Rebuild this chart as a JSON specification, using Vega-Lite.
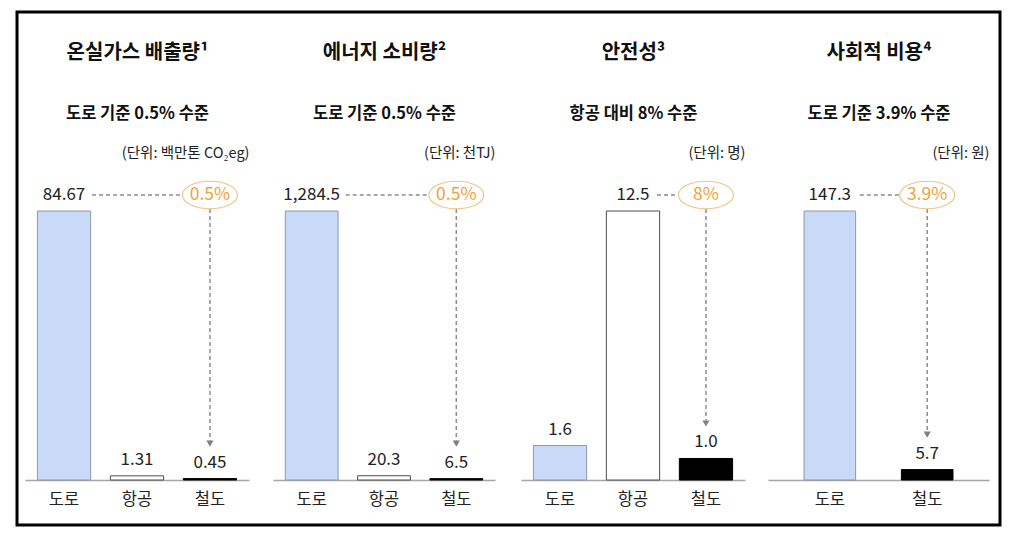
{
  "$schema": "https://vega.github.io/schema/vega-lite/v6.json",
  "autosize": {"type": "none"},
  "width": 983,
  "height": 513,
  "padding": {"left": 17, "top": 12, "right": 17, "bottom": 8},
  "background": "#ffffff",
  "config": {
    "font": "Noto Sans CJK KR",
    "view": {"stroke": "#000000", "strokeWidth": 3, "fill": "#ffffff"},
    "axis": {"grid": false}
  },
  "datasets": {
    "bars": [
      {"panel": "ghg", "mode": "도로", "value": 84.67, "label": "84.67"},
      {"panel": "ghg", "mode": "항공", "value": 1.31, "label": "1.31"},
      {"panel": "ghg", "mode": "철도", "value": 0.45, "label": "0.45"},
      {"panel": "energy", "mode": "도로", "value": 1284.5, "label": "1,284.5"},
      {"panel": "energy", "mode": "항공", "value": 20.3, "label": "20.3"},
      {"panel": "energy", "mode": "철도", "value": 6.5, "label": "6.5"},
      {"panel": "safety", "mode": "도로", "value": 1.6, "label": "1.6"},
      {"panel": "safety", "mode": "항공", "value": 12.5, "label": "12.5"},
      {"panel": "safety", "mode": "철도", "value": 1.0, "label": "1.0"},
      {"panel": "cost", "mode": "도로", "value": 147.3, "label": "147.3"},
      {"panel": "cost", "mode": "철도", "value": 5.7, "label": "5.7"}
    ],
    "notes": [
      {"panel": "ghg", "from": "도로", "to": "철도", "ref": 84.67, "target": 0.45, "pct": "0.5%"},
      {"panel": "energy", "from": "도로", "to": "철도", "ref": 1284.5, "target": 6.5, "pct": "0.5%"},
      {"panel": "safety", "from": "항공", "to": "철도", "ref": 12.5, "target": 1.0, "pct": "8%"},
      {"panel": "cost", "from": "도로", "to": "철도", "ref": 147.3, "target": 5.7, "pct": "3.9%"}
    ]
  },
  "layer": [
    {
      "layer": [
        {
          "data": {"name": "bars"},
          "transform": [{"filter": "datum.panel === 'ghg'"}],
          "mark": {"type": "bar", "strokeWidth": 1},
          "encoding": {
            "x": {"field": "mode", "type": "nominal", "scale": {"domain": ["도로", "항공", "철도"], "range": [8, 232], "paddingInner": 0.27, "paddingOuter": 0.17}, "axis": {"orient": "bottom", "offset": -45, "title": null, "ticks": false, "labelAngle": 0, "labelFontSize": 16.5, "labelColor": "#222222", "labelPadding": 11, "domainColor": "#a6a6a6", "domainWidth": 1.5}},
            "y": {"field": "value", "type": "quantitative", "scale": {"domain": [0, 84.67], "range": [468, 199], "nice": false, "zero": true}, "axis": null},
            "fill": {"field": "mode", "type": "nominal", "scale": {"domain": ["도로", "항공", "철도"], "range": ["#c8daf7", "#ffffff", "#000000"]}, "legend": null},
            "stroke": {"field": "mode", "type": "nominal", "scale": {"domain": ["도로", "항공", "철도"], "range": ["#8e99ab", "#4d4d4d", "#000000"]}, "legend": null}
          }
        },
        {
          "data": {"name": "bars"},
          "transform": [{"filter": "datum.panel === 'ghg'"}],
          "mark": {"type": "text", "fontSize": 17, "color": "#222222", "baseline": "middle", "dy": -16},
          "encoding": {
            "x": {"field": "mode", "type": "nominal", "axis": {"orient": "top", "domain": false, "ticks": false, "labels": false, "title": "온실가스 배출량¹", "titleFontSize": 20, "titleFontWeight": "bold", "titleColor": "#111111", "titleY": 40, "titleBaseline": "middle", "titleAnchor": "middle"}},
            "y": {"field": "value", "type": "quantitative", "axis": null},
            "text": {"field": "label"}
          }
        },
        {
          "data": {"name": "notes"},
          "transform": [{"filter": "datum.panel === 'ghg'"}],
          "mark": {"type": "rule", "strokeDash": [4, 3], "color": "#8c8c8c", "strokeWidth": 1.5, "yOffset": -16, "xOffset": 28, "x2Offset": -28},
          "encoding": {
            "x": {"field": "from", "type": "nominal", "axis": {"orient": "top", "domain": false, "ticks": false, "labels": false, "title": "도로 기준 0.5% 수준", "titleFontSize": 16.5, "titleFontWeight": "bold", "titleColor": "#111111", "titleY": 101, "titleBaseline": "middle", "titleAnchor": "middle"}},
            "x2": {"field": "to"},
            "y": {"field": "ref", "type": "quantitative", "axis": null}
          }
        },
        {
          "data": {"name": "notes"},
          "transform": [{"filter": "datum.panel === 'ghg'"}],
          "mark": {"type": "rule", "strokeDash": [4, 3], "color": "#8c8c8c", "strokeWidth": 1.5, "yOffset": -2, "y2Offset": -38},
          "encoding": {
            "x": {"field": "to", "type": "nominal", "axis": null},
            "y": {"field": "ref", "type": "quantitative", "axis": null},
            "y2": {"field": "target"}
          }
        },
        {
          "data": {"name": "notes"},
          "transform": [{"filter": "datum.panel === 'ghg'"}],
          "mark": {"type": "point", "shape": "triangle-down", "size": 50, "filled": true, "color": "#808080", "opacity": 1, "yOffset": -35},
          "encoding": {
            "x": {"field": "to", "type": "nominal", "axis": null},
            "y": {"field": "target", "type": "quantitative", "axis": null}
          }
        },
        {
          "data": {"name": "notes"},
          "transform": [{"filter": "datum.panel === 'ghg'"}],
          "mark": {"type": "point", "shape": "M -1 0 A 1 0.5 0 1 1 1 0 A 1 0.5 0 1 1 -1 0 Z", "size": 3025, "filled": true, "fill": "#ffffff", "stroke": "#f2c387", "strokeWidth": 1.2, "opacity": 1, "yOffset": -16},
          "encoding": {
            "x": {"field": "to", "type": "nominal", "axis": {"orient": "top", "domain": false, "ticks": false, "labels": false, "title": "(단위: 백만톤 CO₂eg)", "titleFontSize": 14.5, "titleFontWeight": "normal", "titleColor": "#222222", "titleY": 141, "titleBaseline": "middle", "titleAnchor": "end", "titleAlign": "right"}},
            "y": {"field": "ref", "type": "quantitative", "axis": null}
          }
        },
        {
          "data": {"name": "notes"},
          "transform": [{"filter": "datum.panel === 'ghg'"}],
          "mark": {"type": "text", "fontSize": 17.5, "color": "#f0a23c", "baseline": "middle", "dy": -16},
          "encoding": {
            "x": {"field": "to", "type": "nominal", "axis": null},
            "y": {"field": "ref", "type": "quantitative", "axis": null},
            "text": {"field": "pct"}
          }
        }
      ],
      "resolve": {"axis": {"x": "independent"}}
    },
    {
      "layer": [
        {
          "data": {"name": "bars"},
          "transform": [{"filter": "datum.panel === 'energy'"}],
          "mark": {"type": "bar", "strokeWidth": 1},
          "encoding": {
            "x": {"field": "mode", "type": "nominal", "scale": {"domain": ["도로", "항공", "철도"], "range": [256, 478], "paddingInner": 0.27, "paddingOuter": 0.17}, "axis": {"orient": "bottom", "offset": -45, "title": null, "ticks": false, "labelAngle": 0, "labelFontSize": 16.5, "labelColor": "#222222", "labelPadding": 11, "domainColor": "#a6a6a6", "domainWidth": 1.5}},
            "y": {"field": "value", "type": "quantitative", "scale": {"domain": [0, 1284.5], "range": [468, 199], "nice": false, "zero": true}, "axis": null},
            "fill": {"field": "mode", "type": "nominal", "scale": {"domain": ["도로", "항공", "철도"], "range": ["#c8daf7", "#ffffff", "#000000"]}, "legend": null},
            "stroke": {"field": "mode", "type": "nominal", "scale": {"domain": ["도로", "항공", "철도"], "range": ["#8e99ab", "#4d4d4d", "#000000"]}, "legend": null}
          }
        },
        {
          "data": {"name": "bars"},
          "transform": [{"filter": "datum.panel === 'energy'"}],
          "mark": {"type": "text", "fontSize": 17, "color": "#222222", "baseline": "middle", "dy": -16},
          "encoding": {
            "x": {"field": "mode", "type": "nominal", "axis": {"orient": "top", "domain": false, "ticks": false, "labels": false, "title": "에너지 소비량²", "titleFontSize": 20, "titleFontWeight": "bold", "titleColor": "#111111", "titleY": 40, "titleBaseline": "middle", "titleAnchor": "middle"}},
            "y": {"field": "value", "type": "quantitative", "axis": null},
            "text": {"field": "label"}
          }
        },
        {
          "data": {"name": "notes"},
          "transform": [{"filter": "datum.panel === 'energy'"}],
          "mark": {"type": "rule", "strokeDash": [4, 3], "color": "#8c8c8c", "strokeWidth": 1.5, "yOffset": -16, "xOffset": 34, "x2Offset": -28},
          "encoding": {
            "x": {"field": "from", "type": "nominal", "axis": {"orient": "top", "domain": false, "ticks": false, "labels": false, "title": "도로 기준 0.5% 수준", "titleFontSize": 16.5, "titleFontWeight": "bold", "titleColor": "#111111", "titleY": 101, "titleBaseline": "middle", "titleAnchor": "middle"}},
            "x2": {"field": "to"},
            "y": {"field": "ref", "type": "quantitative", "axis": null}
          }
        },
        {
          "data": {"name": "notes"},
          "transform": [{"filter": "datum.panel === 'energy'"}],
          "mark": {"type": "rule", "strokeDash": [4, 3], "color": "#8c8c8c", "strokeWidth": 1.5, "yOffset": -2, "y2Offset": -38},
          "encoding": {
            "x": {"field": "to", "type": "nominal", "axis": null},
            "y": {"field": "ref", "type": "quantitative", "axis": null},
            "y2": {"field": "target"}
          }
        },
        {
          "data": {"name": "notes"},
          "transform": [{"filter": "datum.panel === 'energy'"}],
          "mark": {"type": "point", "shape": "triangle-down", "size": 50, "filled": true, "color": "#808080", "opacity": 1, "yOffset": -35},
          "encoding": {
            "x": {"field": "to", "type": "nominal", "axis": null},
            "y": {"field": "target", "type": "quantitative", "axis": null}
          }
        },
        {
          "data": {"name": "notes"},
          "transform": [{"filter": "datum.panel === 'energy'"}],
          "mark": {"type": "point", "shape": "M -1 0 A 1 0.5 0 1 1 1 0 A 1 0.5 0 1 1 -1 0 Z", "size": 3025, "filled": true, "fill": "#ffffff", "stroke": "#f2c387", "strokeWidth": 1.2, "opacity": 1, "yOffset": -16},
          "encoding": {
            "x": {"field": "to", "type": "nominal", "axis": {"orient": "top", "domain": false, "ticks": false, "labels": false, "title": "(단위: 천TJ)", "titleFontSize": 14.5, "titleFontWeight": "normal", "titleColor": "#222222", "titleY": 141, "titleBaseline": "middle", "titleAnchor": "end", "titleAlign": "right"}},
            "y": {"field": "ref", "type": "quantitative", "axis": null}
          }
        },
        {
          "data": {"name": "notes"},
          "transform": [{"filter": "datum.panel === 'energy'"}],
          "mark": {"type": "text", "fontSize": 17.5, "color": "#f0a23c", "baseline": "middle", "dy": -16},
          "encoding": {
            "x": {"field": "to", "type": "nominal", "axis": null},
            "y": {"field": "ref", "type": "quantitative", "axis": null},
            "text": {"field": "pct"}
          }
        }
      ],
      "resolve": {"axis": {"x": "independent"}}
    },
    {
      "layer": [
        {
          "data": {"name": "bars"},
          "transform": [{"filter": "datum.panel === 'safety'"}],
          "mark": {"type": "bar", "strokeWidth": 1},
          "encoding": {
            "x": {"field": "mode", "type": "nominal", "scale": {"domain": ["도로", "항공", "철도"], "range": [504, 728], "paddingInner": 0.27, "paddingOuter": 0.17}, "axis": {"orient": "bottom", "offset": -45, "title": null, "ticks": false, "labelAngle": 0, "labelFontSize": 16.5, "labelColor": "#222222", "labelPadding": 11, "domainColor": "#a6a6a6", "domainWidth": 1.5}},
            "y": {"field": "value", "type": "quantitative", "scale": {"domain": [0, 12.5], "range": [468, 199], "nice": false, "zero": true}, "axis": null},
            "fill": {"field": "mode", "type": "nominal", "scale": {"domain": ["도로", "항공", "철도"], "range": ["#c8daf7", "#ffffff", "#000000"]}, "legend": null},
            "stroke": {"field": "mode", "type": "nominal", "scale": {"domain": ["도로", "항공", "철도"], "range": ["#8e99ab", "#4d4d4d", "#000000"]}, "legend": null}
          }
        },
        {
          "data": {"name": "bars"},
          "transform": [{"filter": "datum.panel === 'safety'"}],
          "mark": {"type": "text", "fontSize": 17, "color": "#222222", "baseline": "middle", "dy": -16},
          "encoding": {
            "x": {"field": "mode", "type": "nominal", "axis": {"orient": "top", "domain": false, "ticks": false, "labels": false, "title": "안전성³", "titleFontSize": 20, "titleFontWeight": "bold", "titleColor": "#111111", "titleY": 40, "titleBaseline": "middle", "titleAnchor": "middle"}},
            "y": {"field": "value", "type": "quantitative", "axis": null},
            "text": {"field": "label"}
          }
        },
        {
          "data": {"name": "notes"},
          "transform": [{"filter": "datum.panel === 'safety'"}],
          "mark": {"type": "rule", "strokeDash": [4, 3], "color": "#8c8c8c", "strokeWidth": 1.5, "yOffset": -16, "xOffset": 24, "x2Offset": -28},
          "encoding": {
            "x": {"field": "from", "type": "nominal", "axis": {"orient": "top", "domain": false, "ticks": false, "labels": false, "title": "항공 대비 8% 수준", "titleFontSize": 16.5, "titleFontWeight": "bold", "titleColor": "#111111", "titleY": 101, "titleBaseline": "middle", "titleAnchor": "middle"}},
            "x2": {"field": "to"},
            "y": {"field": "ref", "type": "quantitative", "axis": null}
          }
        },
        {
          "data": {"name": "notes"},
          "transform": [{"filter": "datum.panel === 'safety'"}],
          "mark": {"type": "rule", "strokeDash": [4, 3], "color": "#8c8c8c", "strokeWidth": 1.5, "yOffset": -2, "y2Offset": -38},
          "encoding": {
            "x": {"field": "to", "type": "nominal", "axis": null},
            "y": {"field": "ref", "type": "quantitative", "axis": null},
            "y2": {"field": "target"}
          }
        },
        {
          "data": {"name": "notes"},
          "transform": [{"filter": "datum.panel === 'safety'"}],
          "mark": {"type": "point", "shape": "triangle-down", "size": 50, "filled": true, "color": "#808080", "opacity": 1, "yOffset": -35},
          "encoding": {
            "x": {"field": "to", "type": "nominal", "axis": null},
            "y": {"field": "target", "type": "quantitative", "axis": null}
          }
        },
        {
          "data": {"name": "notes"},
          "transform": [{"filter": "datum.panel === 'safety'"}],
          "mark": {"type": "point", "shape": "M -1 0 A 1 0.5 0 1 1 1 0 A 1 0.5 0 1 1 -1 0 Z", "size": 3025, "filled": true, "fill": "#ffffff", "stroke": "#f2c387", "strokeWidth": 1.2, "opacity": 1, "yOffset": -16},
          "encoding": {
            "x": {"field": "to", "type": "nominal", "axis": {"orient": "top", "domain": false, "ticks": false, "labels": false, "title": "(단위: 명)", "titleFontSize": 14.5, "titleFontWeight": "normal", "titleColor": "#222222", "titleY": 141, "titleBaseline": "middle", "titleAnchor": "end", "titleAlign": "right"}},
            "y": {"field": "ref", "type": "quantitative", "axis": null}
          }
        },
        {
          "data": {"name": "notes"},
          "transform": [{"filter": "datum.panel === 'safety'"}],
          "mark": {"type": "text", "fontSize": 17.5, "color": "#f0a23c", "baseline": "middle", "dy": -16},
          "encoding": {
            "x": {"field": "to", "type": "nominal", "axis": null},
            "y": {"field": "ref", "type": "quantitative", "axis": null},
            "text": {"field": "pct"}
          }
        }
      ],
      "resolve": {"axis": {"x": "independent"}}
    },
    {
      "layer": [
        {
          "data": {"name": "bars"},
          "transform": [{"filter": "datum.panel === 'cost'"}],
          "mark": {"type": "bar", "strokeWidth": 1},
          "encoding": {
            "x": {"field": "mode", "type": "nominal", "scale": {"domain": ["도로", "철도"], "range": [751, 972], "paddingInner": 0.47, "paddingOuter": 0.37}, "axis": {"orient": "bottom", "offset": -45, "title": null, "ticks": false, "labelAngle": 0, "labelFontSize": 16.5, "labelColor": "#222222", "labelPadding": 11, "domainColor": "#a6a6a6", "domainWidth": 1.5}},
            "y": {"field": "value", "type": "quantitative", "scale": {"domain": [0, 147.3], "range": [468, 199], "nice": false, "zero": true}, "axis": null},
            "fill": {"field": "mode", "type": "nominal", "scale": {"domain": ["도로", "항공", "철도"], "range": ["#c8daf7", "#ffffff", "#000000"]}, "legend": null},
            "stroke": {"field": "mode", "type": "nominal", "scale": {"domain": ["도로", "항공", "철도"], "range": ["#8e99ab", "#4d4d4d", "#000000"]}, "legend": null}
          }
        },
        {
          "data": {"name": "bars"},
          "transform": [{"filter": "datum.panel === 'cost'"}],
          "mark": {"type": "text", "fontSize": 17, "color": "#222222", "baseline": "middle", "dy": -16},
          "encoding": {
            "x": {"field": "mode", "type": "nominal", "axis": {"orient": "top", "domain": false, "ticks": false, "labels": false, "title": "사회적 비용⁴", "titleFontSize": 20, "titleFontWeight": "bold", "titleColor": "#111111", "titleY": 40, "titleBaseline": "middle", "titleAnchor": "middle"}},
            "y": {"field": "value", "type": "quantitative", "axis": null},
            "text": {"field": "label"}
          }
        },
        {
          "data": {"name": "notes"},
          "transform": [{"filter": "datum.panel === 'cost'"}],
          "mark": {"type": "rule", "strokeDash": [4, 3], "color": "#8c8c8c", "strokeWidth": 1.5, "yOffset": -16, "xOffset": 30, "x2Offset": -28},
          "encoding": {
            "x": {"field": "from", "type": "nominal", "axis": {"orient": "top", "domain": false, "ticks": false, "labels": false, "title": "도로 기준 3.9% 수준", "titleFontSize": 16.5, "titleFontWeight": "bold", "titleColor": "#111111", "titleY": 101, "titleBaseline": "middle", "titleAnchor": "middle"}},
            "x2": {"field": "to"},
            "y": {"field": "ref", "type": "quantitative", "axis": null}
          }
        },
        {
          "data": {"name": "notes"},
          "transform": [{"filter": "datum.panel === 'cost'"}],
          "mark": {"type": "rule", "strokeDash": [4, 3], "color": "#8c8c8c", "strokeWidth": 1.5, "yOffset": -2, "y2Offset": -38},
          "encoding": {
            "x": {"field": "to", "type": "nominal", "axis": null},
            "y": {"field": "ref", "type": "quantitative", "axis": null},
            "y2": {"field": "target"}
          }
        },
        {
          "data": {"name": "notes"},
          "transform": [{"filter": "datum.panel === 'cost'"}],
          "mark": {"type": "point", "shape": "triangle-down", "size": 50, "filled": true, "color": "#808080", "opacity": 1, "yOffset": -35},
          "encoding": {
            "x": {"field": "to", "type": "nominal", "axis": null},
            "y": {"field": "target", "type": "quantitative", "axis": null}
          }
        },
        {
          "data": {"name": "notes"},
          "transform": [{"filter": "datum.panel === 'cost'"}],
          "mark": {"type": "point", "shape": "M -1 0 A 1 0.5 0 1 1 1 0 A 1 0.5 0 1 1 -1 0 Z", "size": 3025, "filled": true, "fill": "#ffffff", "stroke": "#f2c387", "strokeWidth": 1.2, "opacity": 1, "yOffset": -16},
          "encoding": {
            "x": {"field": "to", "type": "nominal", "axis": {"orient": "top", "domain": false, "ticks": false, "labels": false, "title": "(단위: 원)", "titleFontSize": 14.5, "titleFontWeight": "normal", "titleColor": "#222222", "titleY": 141, "titleBaseline": "middle", "titleAnchor": "end", "titleAlign": "right"}},
            "y": {"field": "ref", "type": "quantitative", "axis": null}
          }
        },
        {
          "data": {"name": "notes"},
          "transform": [{"filter": "datum.panel === 'cost'"}],
          "mark": {"type": "text", "fontSize": 17.5, "color": "#f0a23c", "baseline": "middle", "dy": -16},
          "encoding": {
            "x": {"field": "to", "type": "nominal", "axis": null},
            "y": {"field": "ref", "type": "quantitative", "axis": null},
            "text": {"field": "pct"}
          }
        }
      ],
      "resolve": {"axis": {"x": "independent"}}
    }
  ],
  "resolve": {
    "scale": {"x": "independent", "y": "independent"},
    "axis": {"x": "independent", "y": "independent"}
  }
}
